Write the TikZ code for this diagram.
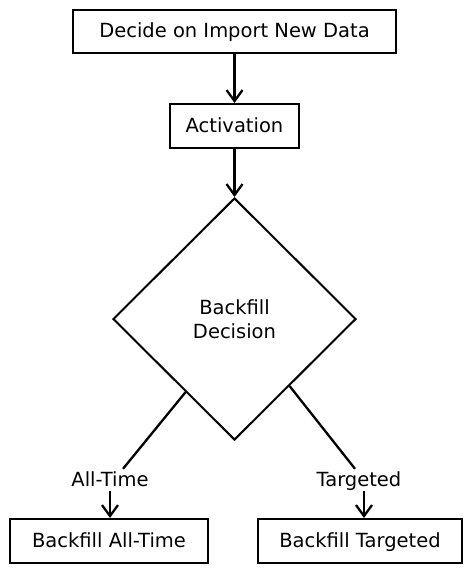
\documentclass[tikz,border=0pt]{standalone}
\usepackage{fontspec}
\setmainfont{DejaVu Sans}
\usetikzlibrary{arrows.meta,shapes.geometric,calc}
\begin{document}
\begin{tikzpicture}[x=1pt,y=-1pt,
  txt/.style={font=\fontsize{19.5}{24}\selectfont},
  box/.style={txt,draw,line width=2pt,rectangle,inner sep=0pt,text height=15pt,text depth=3pt},
  lbl/.style={txt,inner sep=2pt,text height=15pt,text depth=3pt},
  conn/.style={line width=2.3pt},
  arr/.style={conn,-{Straight Barb[length=11pt,width=16pt,line width=2.3pt]}}]
\useasboundingbox (0,0) rectangle (471,573);
\node[box,minimum width=323pt,minimum height=43pt] (top) at (234.5,31.5) {Decide on Import New Data};
\node[box,minimum width=129pt,minimum height=44pt] (act) at (234.5,126) {Activation};
\node[txt,draw,diamond,line width=2pt,minimum width=243pt,minimum height=242pt,aspect=1,align=center,inner sep=0pt] (dec) at (234.5,319) {Backfill\\Decision};
\node[lbl] (lab1) at (110,480) {All-Time};
\node[lbl] (lab2) at (359,480) {Targeted};
\node[box,minimum width=198pt,minimum height=44pt] (b1) at (109,541) {Backfill All-Time};
\node[box,minimum width=204pt,minimum height=44pt] (b2) at (360,541) {Backfill Targeted};
\coordinate (p1) at ($(dec.west)!0.6!(dec.south)$);
\coordinate (p2) at ($(dec.east)!0.55!(dec.south)$);
\draw[arr] (top.south) -- (act.north);
\draw[arr] (act.south) -- (dec.north);
\draw[conn] (p1) -- ([xshift=13pt]lab1.north);
\draw[conn] (p2) -- ([xshift=-4pt]lab2.north);
\draw[arr] (lab1.south) -- (lab1.south |- b1.north);
\draw[arr] ([xshift=5pt]lab2.south) -- ([xshift=5pt]lab2.south |- b2.north);
\end{tikzpicture}
\end{document}
